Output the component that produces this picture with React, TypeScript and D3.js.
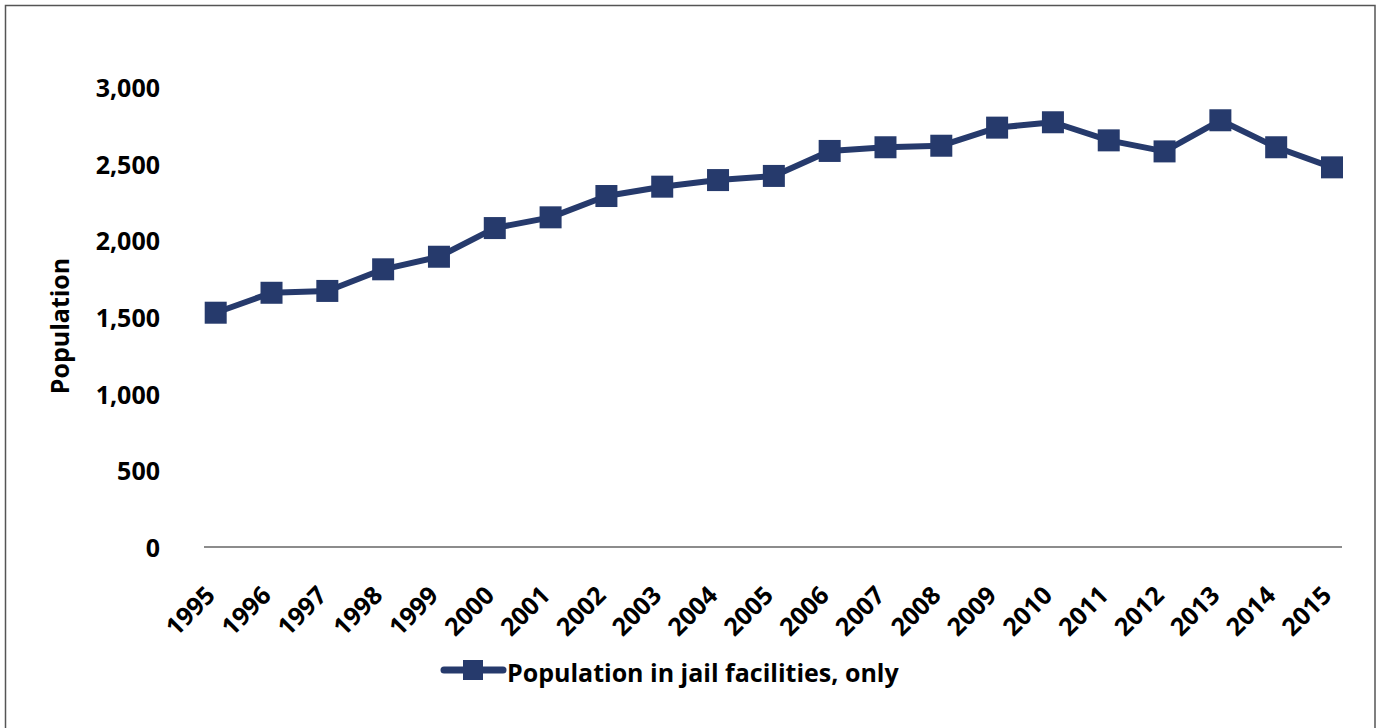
import React from 'react';
import * as d3 from 'd3';

const years = ['1995', '1996', '1997', '1998', '1999', '2000', '2001', '2002', '2003', '2004', '2005',
  '2006', '2007', '2008', '2009', '2010', '2011', '2012', '2013', '2014', '2015'];
const population = [1528, 1658, 1670, 1811, 1893, 2080, 2150, 2289, 2350, 2393, 2420,
  2583, 2607, 2617, 2735, 2770, 2652, 2580, 2783, 2607, 2476];
const yTicks = [0, 500, 1000, 1500, 2000, 2500, 3000];
const seriesName = 'Population in jail facilities, only';
const yTitle = 'Population';

const W = 1380;
const H = 728;
const navy = '#263a6c';
const font = '"Open Sans", "Noto Sans", sans-serif';

export default function App() {
  const x = d3.scalePoint<string>().domain(years).range([215.7, 1332]);
  const y = d3.scaleLinear().domain([0, 3000]).range([547, 87]);
  const line = d3.line<number>()
    .x((_, i) => x(years[i])!)
    .y(d => y(d));
  const fmt = d3.format(',');
  const m = 22; // marker size

  return (
    <svg width={W} height={H} style={{ position: 'absolute', left: 0, top: 0, background: '#fff' }}
      fontFamily={font} fontWeight={700}>
      <rect x={5.5} y={5.5} width={1369.5} height={740} fill="#fff" stroke="#555" strokeWidth={1.5} />

      {/* y tick labels */}
      {yTicks.map(t => (
        <text key={t} x={160} y={y(t)} textAnchor="end" dominantBaseline="central"
          fontSize={25} fill="#000">{fmt(t)}</text>
      ))}

      <text transform={`translate(59,326) rotate(-90)`} textAnchor="middle" dominantBaseline="central"
        fontSize={25} fill="#000">{yTitle}</text>

      {/* x axis */}
      <line x1={204} x2={1342} y1={y(0)} y2={y(0)} stroke="#666" strokeWidth={1.5} />
      {years.map(yr => (
        <text key={yr} transform={`translate(${x(yr)! + 1},597) rotate(-45)`} textAnchor="end"
          fontSize={25} fill="#000">{yr}</text>
      ))}

      {/* series */}
      <path d={line(population) || ''} fill="none" stroke={navy} strokeWidth={6} strokeLinejoin="round" />
      {population.map((v, i) => (
        <rect key={years[i]} x={x(years[i])! - m / 2} y={y(v) - m / 2} width={m} height={m} fill={navy} />
      ))}

      {/* legend */}
      <line x1={444} x2={503} y1={670} y2={670} stroke={navy} strokeWidth={7} strokeLinecap="round" />
      <rect x={463} y={660} width={20} height={20} fill={navy} />
      <text x={507} y={682} fontSize={25} fill="#000">{seriesName}</text>
    </svg>
  );
}
